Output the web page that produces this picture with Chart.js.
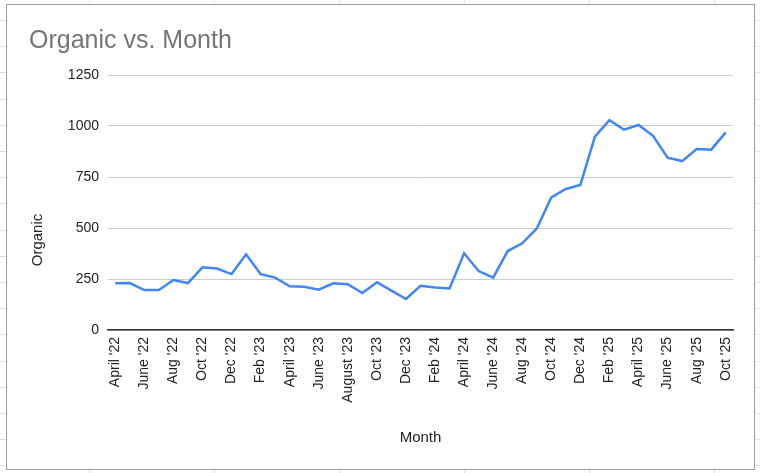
<!DOCTYPE html>
<html>
<head>
<meta charset="utf-8">
<script src="https://cdn.jsdelivr.net/npm/chart.js@4.4.1/dist/chart.umd.min.js"></script>
<style>
  html, body { margin: 0; padding: 0; }
  body {
    width: 760px; height: 473px; position: relative; overflow: hidden;
    background-color: #fff;
    background-image:
      repeating-linear-gradient(to right, transparent 0, transparent 89px, #e0e0e0 89px, #e0e0e0 90px, transparent 90px, transparent 125px),
      repeating-linear-gradient(to bottom, transparent 0, transparent 20px, #e0e0e0 20px, #e0e0e0 21px, transparent 21px, transparent 26.2px);
  }
  #box {
    position: absolute; left: 6px; top: 4px; width: 747px; height: 464px;
    border: 1px solid #9e9e9e; background: #fff;
  }
  #myChart { position: absolute; left: 0; top: 0; }
</style>
</head>
<body>
<div id="box"></div>
<canvas id="myChart" width="760" height="473"></canvas>
<script>
// --- data ---
const months = [
  "April '22", "May '22", "June '22", "July '22", "Aug '22", "Sept '22", "Oct '22", "Nov '22", "Dec '22",
  "Jan '23", "Feb '23", "March '23", "April '23", "May '23", "June '23", "July '23", "August '23", "Sept '23", "Oct '23", "Nov '23", "Dec '23",
  "Jan '24", "Feb '24", "March '24", "April '24", "May '24", "June '24", "July '24", "Aug '24", "Sept '24", "Oct '24", "Nov '24", "Dec '24",
  "Jan '25", "Feb '25", "March '25", "April '25", "May '25", "June '25", "July '25", "Aug '25", "Sept '25", "Oct '25"
];
const organic = [
  229, 230, 196, 196, 245, 230, 307, 301, 274,
  371, 274, 257, 214, 212, 198, 229, 224, 181, 234, 193, 152,
  217, 208, 204, 376, 289, 257, 387, 425, 498, 650, 691, 711,
  948, 1029, 982, 1005, 952, 845, 828, 887, 884, 969
];
const yTicks = [0, 250, 500, 750, 1000, 1250];

const FONT = "'Liberation Sans', Arial, sans-serif";

const ctx = document.getElementById("myChart").getContext("2d");
const myChart = new Chart(ctx, {
  type: 'line',
  data: {
    labels: months,
    datasets: [{
      label: 'Organic',
      data: organic,
      borderColor: '#4285f4',
      borderWidth: 2.5,
      pointRadius: 0,
      fill: false,
      tension: 0
    }]
  },
  options: {
    responsive: false,
    animation: false,
    devicePixelRatio: 1,
    layout: { padding: { left: 29, right: 27, top: 0, bottom: 0 } },
    plugins: {
      legend: { display: false },
      tooltip: { enabled: false },
      title: {
        display: true,
        text: 'Organic vs. Month',
        align: 'start',
        color: '#757575',
        font: { family: FONT, size: 25, weight: 'normal' },
        padding: { top: 26, bottom: 19 }
      }
    },
    scales: {
      x: {
        offset: true,
        grid: { display: false, drawTicks: false },
        border: { display: true, color: '#333', width: 1.5 },
        ticks: {
          autoSkip: false,
          minRotation: 90,
          maxRotation: 90,
          padding: 7,
          color: '#222',
          font: { family: FONT, size: 14 },
          callback: function(v, i) { return i % 2 === 0 ? months[i] : ''; }
        },
        title: {
          display: true,
          text: 'Month',
          color: '#222',
          font: { family: FONT, size: 15 },
          padding: { top: 0, bottom: 26 }
        },
        afterFit: s => { s.height = 143; }
      },
      y: {
        min: yTicks[0],
        max: yTicks[yTicks.length - 1],
        grid: { color: '#cccccc', lineWidth: 1, drawTicks: false },
        border: { display: false },
        ticks: {
          stepSize: yTicks[1] - yTicks[0],
          padding: 9,
          color: '#222',
          font: { family: FONT, size: 14 },
          callback: v => String(v)
        },
        afterBuildTicks: s => { s.ticks = yTicks.map(v => ({ value: v })); },
        title: {
          display: true,
          // trailing spaces push the title down, as Sheets places it below centre
          text: 'Organic' + ' '.repeat(18),
          color: '#222',
          font: { family: FONT, size: 15 },
          padding: { top: 0, bottom: 0 }
        },
        afterFit: s => { s.width = 79; }
      }
    }
  }
});
</script>
</body>
</html>
